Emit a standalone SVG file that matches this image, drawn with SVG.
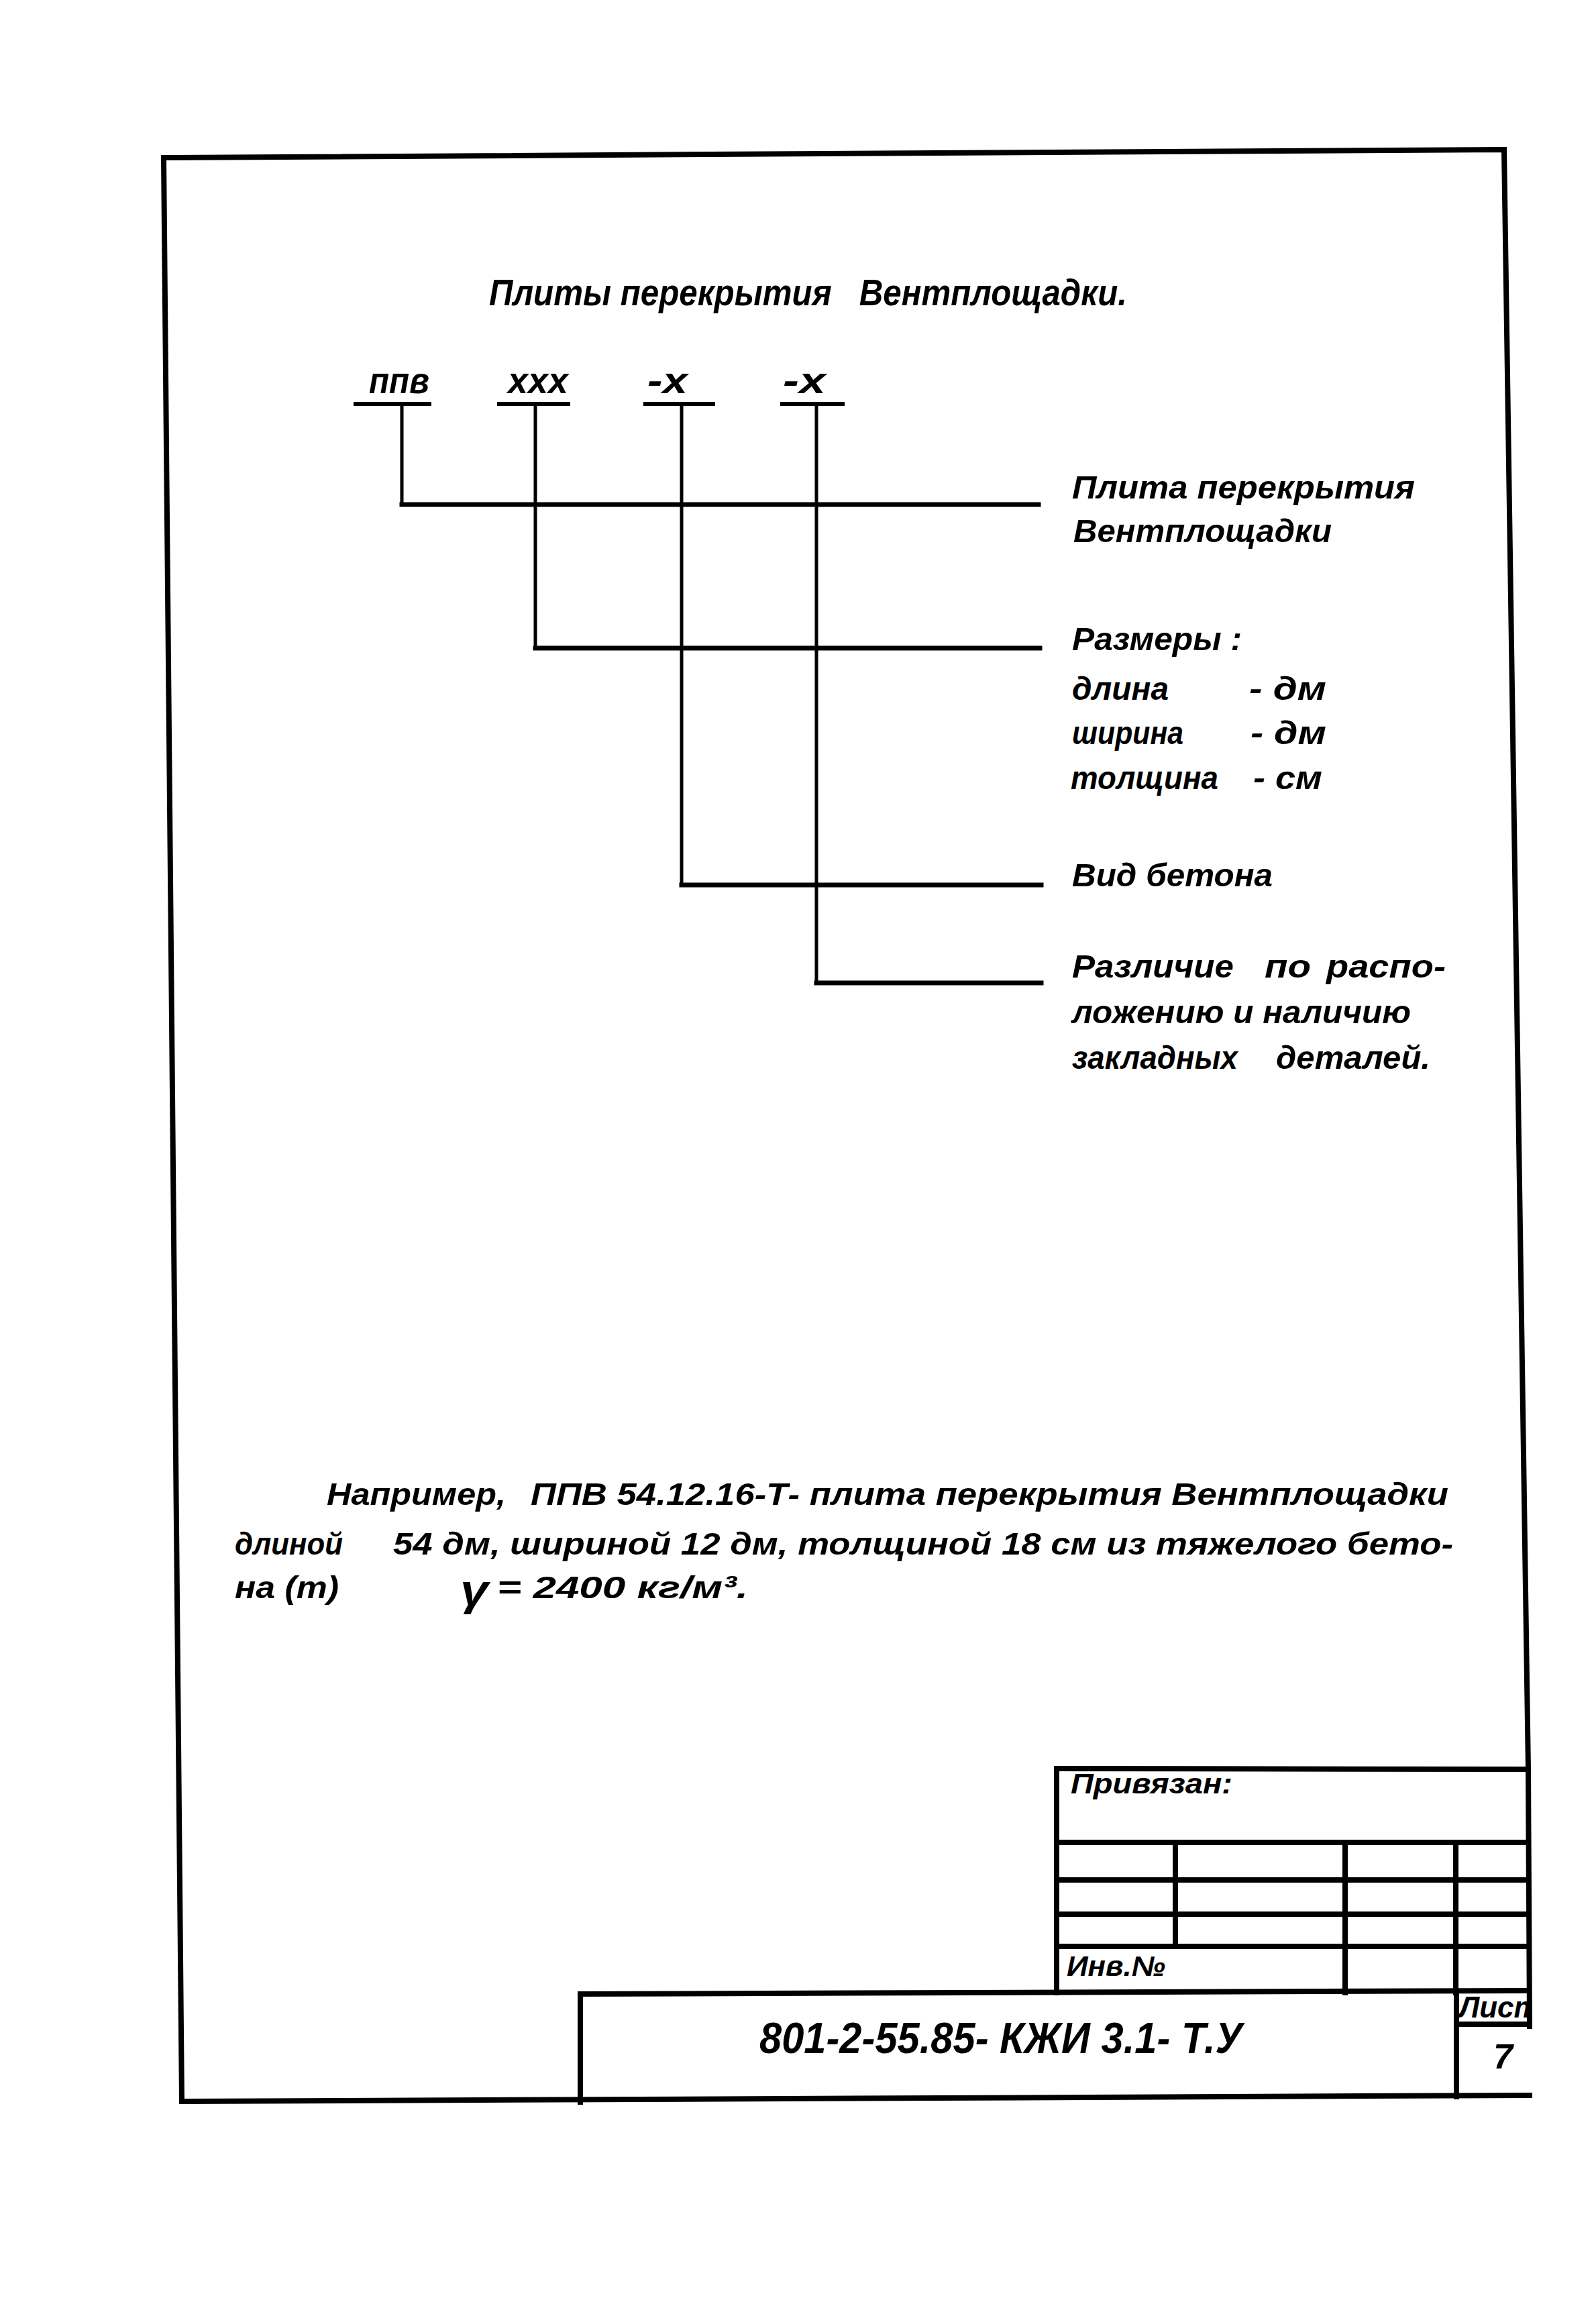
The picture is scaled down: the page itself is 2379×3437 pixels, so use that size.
<svg xmlns="http://www.w3.org/2000/svg" width="2379" height="3437" viewBox="0 0 2379 3437">
<style>
.t{font-family:"Liberation Sans","DejaVu Sans",Arial,sans-serif;font-style:italic;font-weight:bold;fill:#000}
.ln{stroke:#000;fill:none;stroke-linecap:square}
.fr{stroke-width:8}
.tb{stroke-width:8}
.v{stroke-width:5}
.h{stroke-width:7}
.u{stroke-width:6}
</style>
<defs>
<clipPath id="clipList"><rect x="2174" y="2970" width="104" height="45"/></clipPath>
</defs>
<rect width="2379" height="3437" fill="#fff"/>

<g id="frame">
<path class="ln fr" d="M271,3132 L244,235 L2242,223 L2278,2637 L2280,3020"/>
<path class="ln fr" d="M271,3132 L2280,3123"/>
</g>

<g id="title">
<text class="t" x="729" y="455" font-size="56" textLength="951" lengthAdjust="spacingAndGlyphs" xml:space="preserve">Плиты перекрытия   Вентплощадки.</text>
</g>

<g id="code-labels">
<text class="t" x="550" y="586" font-size="56" textLength="90" lengthAdjust="spacingAndGlyphs">ппв</text>
<text class="t" x="757" y="586" font-size="56" textLength="90" lengthAdjust="spacingAndGlyphs">xxx</text>
<text class="t" x="965" y="586" font-size="56" textLength="60" lengthAdjust="spacingAndGlyphs">-x</text>
<text class="t" x="1167" y="586" font-size="56" textLength="64" lengthAdjust="spacingAndGlyphs">-x</text>
</g>

<g id="connectors">
<line class="ln u" x1="530" y1="602" x2="640" y2="602"/>
<line class="ln u" x1="744" y1="602" x2="847" y2="602"/>
<line class="ln u" x1="962" y1="602" x2="1063" y2="602"/>
<line class="ln u" x1="1166" y1="602" x2="1256" y2="602"/>
<line class="ln v" x1="599" y1="602" x2="599" y2="752"/>
<line class="ln v" x1="798" y1="602" x2="798" y2="966"/>
<line class="ln v" x1="1016" y1="602" x2="1016" y2="1319"/>
<line class="ln v" x1="1217" y1="602" x2="1217" y2="1465"/>
<line class="ln h" x1="599" y1="752" x2="1548" y2="752"/>
<line class="ln h" x1="798" y1="966" x2="1550" y2="966"/>
<line class="ln h" x1="1016" y1="1319" x2="1552" y2="1319"/>
<line class="ln h" x1="1217" y1="1465" x2="1552" y2="1465"/>
</g>

<g id="node-plate">
<text class="t" x="1598" y="743" font-size="48" textLength="511" lengthAdjust="spacingAndGlyphs">Плита перекрытия</text>
<text class="t" x="1600" y="808" font-size="48" textLength="385" lengthAdjust="spacingAndGlyphs">Вентплощадки</text>
</g>

<g id="node-sizes">
<text class="t" x="1598" y="969" font-size="48" textLength="253" lengthAdjust="spacingAndGlyphs">Размеры :</text>
<text class="t" x="1598" y="1043" font-size="48" textLength="144" lengthAdjust="spacingAndGlyphs">длина</text>
<text class="t" x="1862" y="1043" font-size="48" textLength="115" lengthAdjust="spacingAndGlyphs">- дм</text>
<text class="t" x="1598" y="1109" font-size="48" textLength="166" lengthAdjust="spacingAndGlyphs">ширина</text>
<text class="t" x="1864" y="1109" font-size="48" textLength="113" lengthAdjust="spacingAndGlyphs">- дм</text>
<text class="t" x="1596" y="1176" font-size="48" textLength="220" lengthAdjust="spacingAndGlyphs">толщина</text>
<text class="t" x="1868" y="1176" font-size="48" textLength="103" lengthAdjust="spacingAndGlyphs">- см</text>
</g>

<g id="node-concrete">
<text class="t" x="1598" y="1321" font-size="48" textLength="299" lengthAdjust="spacingAndGlyphs">Вид бетона</text>
</g>

<g id="node-difference">
<text class="t" x="1598" y="1457" font-size="48" textLength="241" lengthAdjust="spacingAndGlyphs">Различие</text>
<text class="t" x="1885" y="1457" font-size="48" textLength="69" lengthAdjust="spacingAndGlyphs">по</text>
<text class="t" x="1977" y="1457" font-size="48" textLength="178" lengthAdjust="spacingAndGlyphs">распо-</text>
<text class="t" x="1598" y="1525" font-size="48" textLength="505" lengthAdjust="spacingAndGlyphs">ложению и наличию</text>
<text class="t" x="1598" y="1593" font-size="48" textLength="247" lengthAdjust="spacingAndGlyphs">закладных</text>
<text class="t" x="1902" y="1593" font-size="48" textLength="230" lengthAdjust="spacingAndGlyphs">деталей.</text>
</g>

<g id="example">
<text class="t" x="487" y="2243" font-size="46" textLength="267" lengthAdjust="spacingAndGlyphs">Например,</text>
<text class="t" x="791" y="2243" font-size="46" textLength="1368" lengthAdjust="spacingAndGlyphs">ППВ 54.12.16-Т- плита перекрытия Вентплощадки</text>
<text class="t" x="350" y="2317" font-size="46" textLength="161" lengthAdjust="spacingAndGlyphs">длиной</text>
<text class="t" x="586" y="2317" font-size="46" textLength="1580" lengthAdjust="spacingAndGlyphs">54 дм, шириной 12 дм, толщиной 18 см из тяжелого бето-</text>
<text class="t" x="350" y="2382" font-size="46" textLength="155" lengthAdjust="spacingAndGlyphs">на (т)</text>
<text class="t" x="686" y="2392" font-size="64" textLength="42" lengthAdjust="spacingAndGlyphs">γ</text>
<text class="t" x="741" y="2382" font-size="46" textLength="374" lengthAdjust="spacingAndGlyphs">= 2400 кг/м³.</text>
</g>

<g id="stamp-upper">
<line class="ln tb" x1="1575" y1="2636" x2="2278" y2="2637"/>
<line class="ln tb" x1="1575" y1="2636" x2="1575" y2="2970"/>
<line class="ln tb" x1="1575" y1="2746" x2="2278" y2="2746"/>
<line class="ln tb" x1="1575" y1="2802" x2="2278" y2="2802"/>
<line class="ln tb" x1="1575" y1="2853" x2="2278" y2="2853"/>
<line class="ln tb" x1="1575" y1="2901" x2="2278" y2="2901"/>
<line class="ln tb" x1="1752" y1="2746" x2="1752" y2="2901"/>
<line class="ln tb" x1="2005" y1="2746" x2="2005" y2="2970"/>
<line class="ln tb" x1="2170" y1="2746" x2="2170" y2="2970"/>
<text class="t" x="1596" y="2673" font-size="42" textLength="241" lengthAdjust="spacingAndGlyphs">Привязан:</text>
<text class="t" x="1590" y="2945" font-size="42" textLength="147" lengthAdjust="spacingAndGlyphs">Инв.№</text>
</g>

<g id="stamp-main">
<line class="ln tb" x1="865" y1="2972" x2="2278" y2="2967"/>
<line class="ln tb" x1="865" y1="2972" x2="865" y2="3133"/>
<line class="ln tb" x1="2171" y1="2967" x2="2171" y2="3125"/>
<line class="ln tb" x1="2171" y1="3017" x2="2278" y2="3017"/>
<text class="t" x="1132" y="3060" font-size="64" textLength="720" lengthAdjust="spacingAndGlyphs">801-2-55.85- КЖИ 3.1- Т.У</text>
<text class="t" x="2175" y="3007" font-size="44" clip-path="url(#clipList)">Лист</text>
<text class="t" x="2226" y="3083" font-size="52">7</text>
</g>
</svg>
